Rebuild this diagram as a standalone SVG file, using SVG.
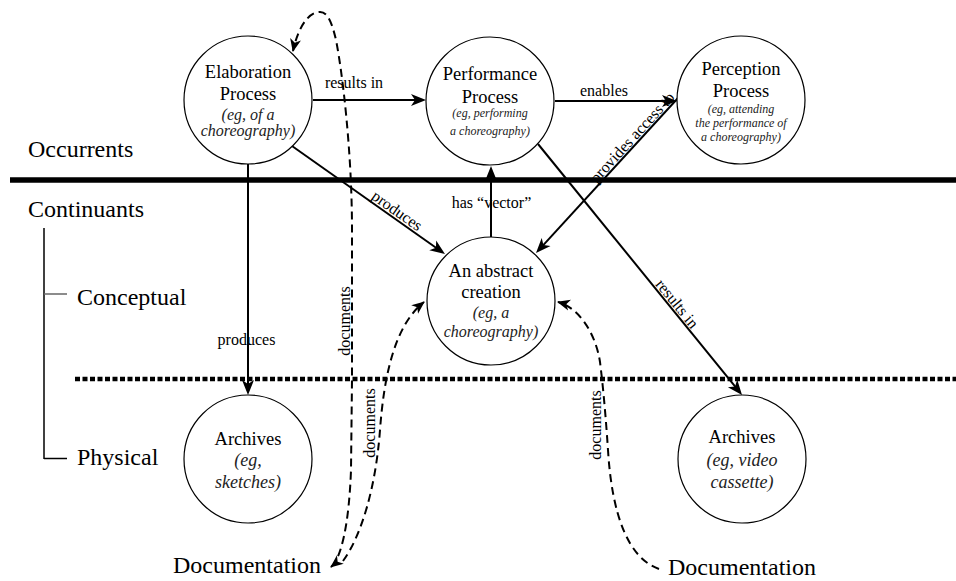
<svg xmlns="http://www.w3.org/2000/svg" width="956" height="581" viewBox="0 0 956 581">
<style>
text{font-family:"Liberation Serif","Times New Roman",serif;fill:#000}
.node circle{fill:#fff;stroke:#000;stroke-width:1.2}
.t{font-size:18.5px;text-anchor:middle}
.i{font-style:italic;text-anchor:middle;fill:#222}
.lab{font-size:16px}
.big{font-size:24px}
.e{fill:none;stroke:#000;stroke-width:2}
.d{fill:none;stroke:#000;stroke-width:2;stroke-dasharray:8,5}
</style>
<defs>
<marker id="arr" viewBox="0 0 16 14" markerWidth="16" markerHeight="14" refX="11" refY="7" orient="auto" markerUnits="userSpaceOnUse">
<path d="M15,7 L0,1 L4,7 L0,13 Z" fill="#000"/>
</marker>
<marker id="darr" viewBox="0 0 14 12" markerWidth="14" markerHeight="12" refX="12" refY="6" orient="auto-start-reverse" markerUnits="userSpaceOnUse">
<path d="M13,6 L0,0.5 L3.5,6 L0,11.5 Z" fill="#000"/>
</marker>
</defs>

<g id="bands">
<line x1="10" y1="180" x2="956" y2="180" stroke="#000" stroke-width="5.5"/>
<line x1="75" y1="379" x2="956" y2="379" stroke="#000" stroke-width="4.5" stroke-dasharray="5,2.5"/>
<line x1="44" y1="228" x2="44" y2="459" stroke="#000" stroke-width="1.5"/>
<line x1="44" y1="294" x2="67" y2="294" stroke="#666" stroke-width="1.5"/>
<line x1="44" y1="458.5" x2="67" y2="458.5" stroke="#000" stroke-width="1.5"/>
<text class="big" x="28" y="157">Occurrents</text>
<text class="big" x="28" y="217">Continuants</text>
<text class="big" x="77" y="305">Conceptual</text>
<text class="big" x="77" y="465">Physical</text>
<text class="big" x="173" y="573">Documentation</text>
<text class="big" x="668" y="575">Documentation</text>
</g>

<g id="connectors">
<line class="e" x1="313" y1="100" x2="422" y2="100" marker-end="url(#arr)"/>
<line class="e" x1="555" y1="101" x2="673" y2="101" marker-end="url(#arr)"/>
<line class="e" x1="678" y1="98" x2="538.7" y2="250.1" marker-end="url(#arr)"/>
<line class="e" x1="292" y1="146" x2="441.7" y2="251.7" marker-end="url(#arr)"/>
<line class="e" x1="248" y1="164" x2="248" y2="391" marker-end="url(#arr)"/>
<line class="e" x1="491" y1="237" x2="491" y2="170" marker-end="url(#arr)"/>
<line class="e" x1="538" y1="144" x2="739.5" y2="391.9" marker-end="url(#arr)"/>
<path class="d" d="M331,567 C341,559 349,525 351,470 L352,380 L352,230 C352,150 342,70 336,40 C331,18 326,12 320,12 C308,12 298,28 293,51" marker-start="url(#darr)" marker-end="url(#darr)"/>
<path class="d" d="M343,561 C362,535 376,485 380,430 C384,375 395,325 424,302" marker-end="url(#darr)"/>
<path class="d" d="M659,569 C628,558 612,515 608,450 C605,405 602,378 600,362 C596,335 580,308 558,302" marker-end="url(#darr)"/>
<text class="lab" x="354" y="88" text-anchor="middle">results in</text>
<text class="lab" x="604" y="96" text-anchor="middle">enables</text>
<text class="lab" x="491.5" y="208" text-anchor="middle">has “vector”</text>
<text class="lab" x="246.5" y="345" text-anchor="middle">produces</text>
<text class="lab" text-anchor="middle" transform="translate(394,215) rotate(35.2)">produces</text>
<text class="lab" text-anchor="middle" transform="translate(636,141) rotate(-47.5)">provides access to</text>
<text class="lab" text-anchor="middle" transform="translate(673,307) rotate(50.9)">results in</text>
<text class="lab" text-anchor="middle" transform="translate(350,321) rotate(-90)">documents</text>
<text class="lab" text-anchor="middle" transform="translate(375,423) rotate(-90)">documents</text>
<text class="lab" text-anchor="middle" transform="translate(601,425) rotate(-90)">documents</text>
</g>

<g id="elaboration" class="node">
<circle cx="248" cy="100" r="64"/>
<text class="t" x="248" y="77.5">Elaboration</text>
<text class="t" x="248" y="100">Process</text>
<text class="i" x="248" y="120" font-size="16">(eg, of a</text>
<text class="i" x="248" y="136" font-size="16">choreography)</text>
</g>

<g id="performance" class="node">
<circle cx="490" cy="101" r="64"/>
<text class="t" x="490" y="80">Performance</text>
<text class="t" x="490" y="102.5">Process</text>
<text class="i" x="490" y="117" font-size="12">(eg, performing</text>
<text class="i" x="490" y="135" font-size="12">a choreography)</text>
</g>

<g id="perception" class="node">
<circle cx="741" cy="100" r="64"/>
<text class="t" x="741" y="75">Perception</text>
<text class="t" x="741" y="97">Process</text>
<text class="i" x="741" y="113" font-size="12">(eg, attending</text>
<text class="i" x="741" y="126.5" font-size="12">the performance of</text>
<text class="i" x="741" y="141" font-size="12">a choreography)</text>
</g>

<g id="abstract" class="node">
<circle cx="491" cy="301" r="64"/>
<text class="t" x="491" y="277">An abstract</text>
<text class="t" x="491" y="298">creation</text>
<text class="i" x="491" y="318" font-size="16">(eg, a</text>
<text class="i" x="491" y="337" font-size="16">choreography)</text>
</g>

<g id="archives-sketches" class="node">
<circle cx="248" cy="459" r="64"/>
<text class="t" x="248" y="445">Archives</text>
<text class="i" x="248" y="466" font-size="18">(eg,</text>
<text class="i" x="248" y="488" font-size="18">sketches)</text>
</g>

<g id="archives-video" class="node">
<circle cx="742" cy="459" r="64"/>
<text class="t" x="742" y="443">Archives</text>
<text class="i" x="742" y="466" font-size="18">(eg, video</text>
<text class="i" x="742" y="488" font-size="18">cassette)</text>
</g>
</svg>
